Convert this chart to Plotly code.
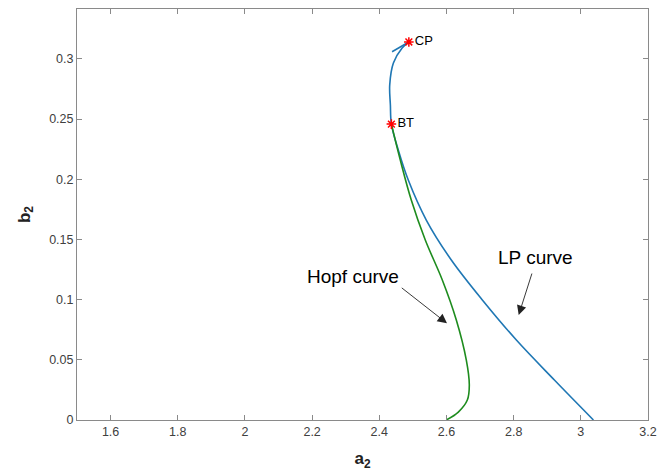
import plotly.graph_objects as go

# LP curve (blue) : a2, b2 pairs, ordered from the bottom up to CP
lp_a = [3.0375, 2.9213, 2.8081, 2.7068, 2.6144, 2.5399, 2.4863, 2.4565, 2.436,
        2.433, 2.431, 2.442, 2.468, 2.488]
lp_b = [0.0, 0.0332, 0.0664, 0.0997, 0.1329, 0.1661, 0.1993, 0.2243, 0.2458,
        0.2616, 0.2782, 0.2965, 0.3090, 0.3140]
# short continuation past the cusp point
lp_hook_a = [2.488, 2.438]
lp_hook_b = [0.3140, 0.3059]

# Hopf curve (green)
hopf_a = [2.436, 2.4625, 2.4952, 2.5369, 2.5876, 2.6293, 2.6591, 2.668, 2.6621,
          2.6353, 2.5995]
hopf_b = [0.2458, 0.2159, 0.1827, 0.1495, 0.1163, 0.0831, 0.0498, 0.0291,
          0.0166, 0.0066, 0.0]

# Special points
pt_names = ["CP", "BT"]
pt_a = [2.488, 2.436]
pt_b = [0.3140, 0.2458]

x_ticks = [1.6, 1.8, 2.0, 2.2, 2.4, 2.6, 2.8, 3.0, 3.2]
x_tick_text = ["1.6", "1.8", "2", "2.2", "2.4", "2.6", "2.8", "3", "3.2"]
y_ticks = [0, 0.05, 0.1, 0.15, 0.2, 0.25, 0.3]
y_tick_text = ["0", "0.05", "0.1", "0.15", "0.2", "0.25", "0.3"]

FONT = "Liberation Sans, Arial, sans-serif"
AXC = "#8a8a8a"
TXT = "#404040"
BLUE = "#1f77b4"
GREEN = "#1e8c1e"

fig = go.Figure()
fig.add_trace(go.Scatter(x=lp_a, y=lp_b, mode="lines",
                         line=dict(color=BLUE, width=1.6, shape="spline", smoothing=1.0),
                         showlegend=False))
fig.add_trace(go.Scatter(x=lp_hook_a, y=lp_hook_b, mode="lines",
                         line=dict(color=BLUE, width=1.6), showlegend=False))
fig.add_trace(go.Scatter(x=hopf_a, y=hopf_b, mode="lines",
                         line=dict(color=GREEN, width=1.6, shape="spline", smoothing=1.0),
                         showlegend=False))
fig.add_trace(go.Scatter(x=pt_a, y=pt_b, mode="markers+text", text=pt_names,
                         textposition="middle right",
                         textfont=dict(family=FONT, size=13, color="black"),
                         marker=dict(symbol="asterisk-open", size=8, color="red",
                                     line=dict(color="red", width=1.5)),
                         showlegend=False))

axis_common = dict(showline=True, linecolor=AXC, linewidth=1, mirror="ticks",
                   ticks="inside", ticklen=5, tickcolor=AXC, showgrid=False,
                   zeroline=False, automargin=False,
                   tickfont=dict(family=FONT, size=12.5, color=TXT))

fig.update_layout(
    width=660, height=476,
    margin=dict(l=77, r=12, t=9, b=56),
    paper_bgcolor="white", plot_bgcolor="white",
    xaxis=dict(range=[1.5, 3.2], tickvals=x_ticks, ticktext=x_tick_text,
               title=dict(text="<b>a<sub>2</sub></b>", standoff=14,
                          font=dict(family=FONT, size=17, color="#222")),
               **axis_common),
    yaxis=dict(range=[0, 0.3414], tickvals=y_ticks, ticktext=y_tick_text,
               title=dict(text="<b>b<sub>2</sub></b>", standoff=14,
                          font=dict(family=FONT, size=17, color="#222")),
               **axis_common),
)

arrow_common = dict(xref="x", yref="y", axref="x", ayref="y", text="",
                    showarrow=True, arrowhead=2, arrowsize=2.1, arrowwidth=0.9,
                    arrowcolor="#222")
fig.add_annotation(x=2.6016, y=0.0803, ax=2.4625, ay=0.1107, **arrow_common)
fig.add_annotation(x=2.815, y=0.0872, ax=2.8558, ay=0.1229, **arrow_common)
fig.add_annotation(x=2.3224, y=0.1196, text="Hopf curve", showarrow=False,
                   font=dict(family=FONT, size=19, color="black"))
fig.add_annotation(x=2.8647, y=0.1346, text="LP curve", showarrow=False,
                   font=dict(family=FONT, size=19, color="black"))

fig.write_html("out.html")
